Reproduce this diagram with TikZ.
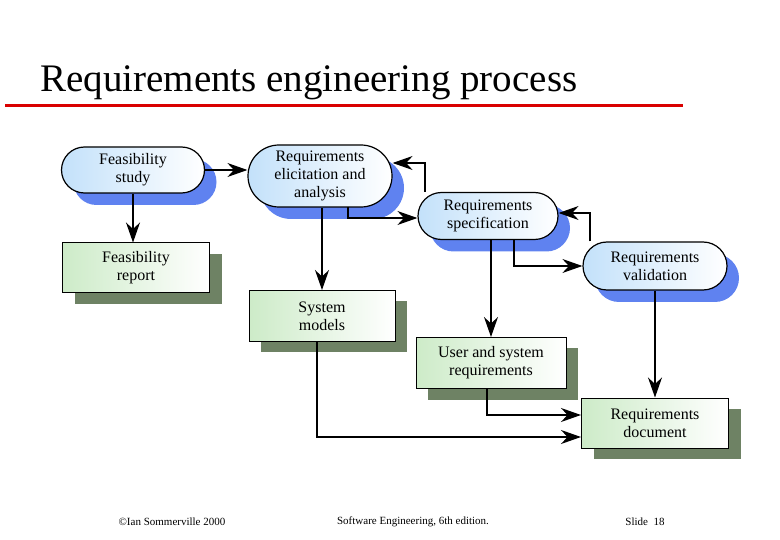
\documentclass[tikz,border=0pt]{standalone}
\usepackage{fontspec}
\setmainfont{Liberation Serif}
\usetikzlibrary{arrows.meta, shapes.misc, positioning, shadows}
\definecolor{shblue}{RGB}{95,130,240}
\definecolor{shgreen}{RGB}{110,130,100}
\definecolor{actfill}{RGB}{195,225,250}
\definecolor{docfill}{RGB}{205,235,200}
\begin{document}
\begin{tikzpicture}[x=1pt,y=-1pt,
  act/.style={rounded rectangle, draw=black, line width=1.2pt, left color=actfill, right color=white,
    minimum height=#1, align=center, font=\fontsize{16}{18}\selectfont, inner sep=0pt,
    drop shadow={shadow xshift=12pt, shadow yshift=-12pt, fill=shblue, opacity=1}},
  doc/.style={rectangle, draw=black, line width=1pt, left color=docfill, right color=white,
    minimum height=#1, align=center, font=\fontsize{16}{18}\selectfont, inner sep=0pt,
    drop shadow={shadow xshift=12pt, shadow yshift=-11pt, fill=shgreen, opacity=1}},
  flow/.style={-{Stealth[length=20pt, width=14pt]}, line width=1.2pt}]
\useasboundingbox (0,0) rectangle (780,540);
{\fontsize{39}{42}\selectfont
\node[anchor=west, inner sep=0pt] (title) at (40,83) {Requirements engineering process};}
\draw[red!85!black, line width=3pt] (5,106) -- (683,106);

\node[act=46pt, minimum width=143pt] (fs) at (133,170) {Feasibility\\study};
\node[act=62pt, minimum width=144pt] (rea) at (320,176) {Requirements\\elicitation and\\analysis};
\node[act=47pt, minimum width=140pt] (rs) at (488,216) {Requirements\\specification};
\node[act=48pt, minimum width=144pt] (rv) at (655,266) {Requirements\\validation};
\node[doc=50pt, minimum width=147pt] (fr) at (136,268) {Feasibility\\report};
\node[doc=51pt, minimum width=146pt] (sm) at (322,316) {System\\models};
\node[doc=51pt, minimum width=150pt] (usr) at (491,363) {User and system\\requirements};
\node[doc=50pt, minimum width=147pt] (rd) at (655,423) {Requirements\\document};

\draw[flow] (fs.east) -- (rea.west |- fs.east);
\draw[flow] (fs.south) -- (fs.south |- fr.north);
\draw[flow] (rea.south -| sm.north) -- (sm.north);
\draw[flow] (348,207) |- (rs.west |- 0,218);
\draw[flow] ([xshift=-63pt]rs.north) |- (rea.east |- 0,163);
\draw[flow] ([xshift=-65pt]rv.north) |- (rs.east |- 0,213);
\draw[flow] (rs.south -| usr.north) -- (usr.north);
\draw[flow] ([xshift=26pt]rs.south) |- (rv.west);
\draw[flow] (rv.south) -- (rd.north);
\draw[flow] ([xshift=-4pt]usr.south) |- (rd.west |- 0,415);
\draw[flow] ([xshift=-5pt]sm.south) |- (rd.west |- 0,437);

\node[font=\fontsize{11}{13}\selectfont] (copy) at (172,522) {\textcopyright Ian Sommerville 2000};
\node[font=\fontsize{11}{13}\selectfont] (book) at (413,522) {Software Engineering, 6th edition.};
\node[font=\fontsize{11}{13}\selectfont] (slide) at (645,522) {Slide\ \ 18};
\end{tikzpicture}
\end{document}
